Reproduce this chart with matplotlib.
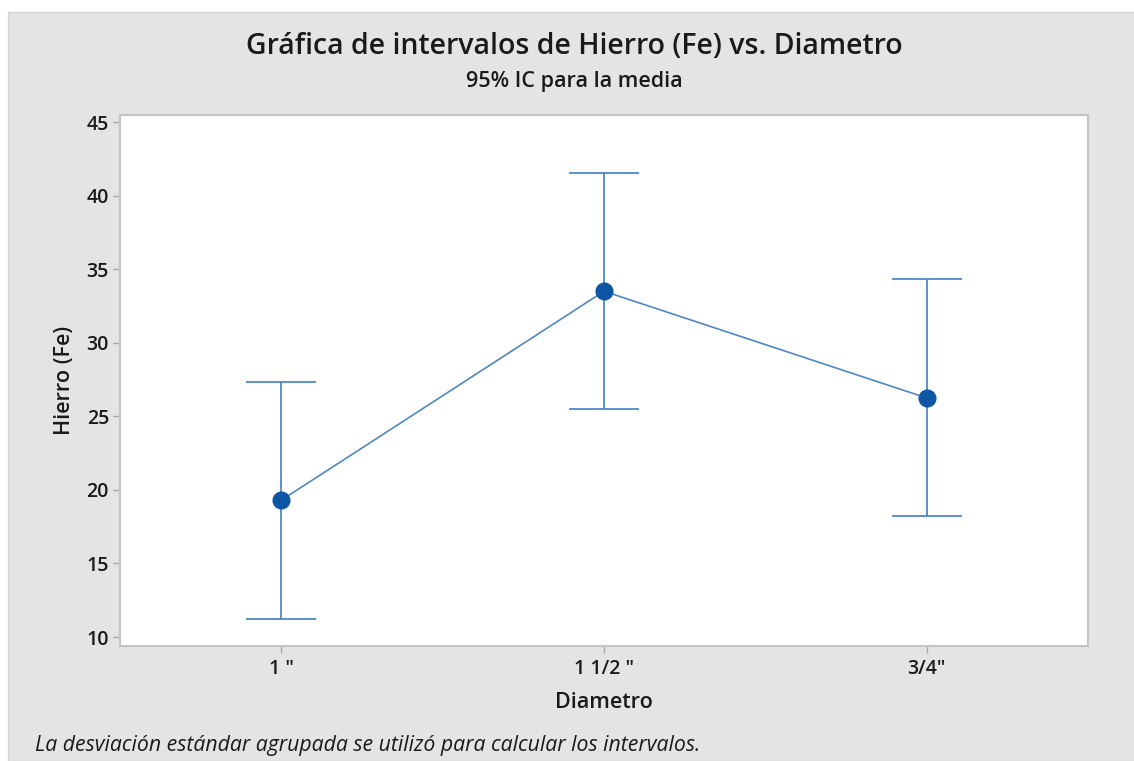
import numpy as np
import matplotlib.pyplot as plt
from matplotlib.patches import Rectangle

# -----------------------------------------------------------
# Data
# -----------------------------------------------------------
diametros = ['1 "', '1 1/2 "', '3/4"']
medias = [19.3, 33.5, 26.25]
ic_inferior = [11.25, 25.5, 18.2]
ic_superior = [27.35, 41.55, 34.3]
y_ticks = [10, 15, 20, 25, 30, 35, 40, 45]

plt.rcParams['font.family'] = ['Open Sans', 'DejaVu Sans']

x = np.arange(len(diametros))
medias = np.array(medias)
err = [medias - np.array(ic_inferior), np.array(ic_superior) - medias]

fig = plt.figure(figsize=(11.34, 7.61), dpi=100)
fig.patch.set_facecolor('white')
# gray panel behind everything
fig.patches.append(Rectangle((8 / 1134, 0), 1, 1 - 12 / 761, transform=fig.transFigure,
                             facecolor='#e4e4e4', edgecolor='#d4d4d4', linewidth=1, zorder=-5))

ax = fig.add_axes([120 / 1134, 1 - 646 / 761, 968 / 1134, 531 / 761])
ax.set_facecolor('white')

ax.errorbar(x, medias, yerr=err, fmt='none', ecolor='#4f88c6', elinewidth=1.3,
            capsize=25, capthick=1.3, zorder=2)
ax.plot(x, medias, color='#4f88c6', linewidth=1.2, zorder=3)
ax.plot(x, medias, 'o', color='#0d55a5', markersize=12, zorder=4)

ax.set_xlim(-0.5, 2.5)
ax.set_ylim(9.39, 45.48)
ax.set_xticks(x)
ax.set_xticklabels(diametros)
ax.set_yticks(y_ticks)

for s in ax.spines.values():
    s.set_color('#c4c4c4')
    s.set_linewidth(1.5)
ax.tick_params(axis='both', colors='#a8a8a8', length=5, width=1, labelsize=14,
               labelcolor='#1a1a1a')
ax.tick_params(axis='x', pad=4)
ax.tick_params(axis='y', pad=3)
for lab in ax.get_xticklabels() + ax.get_yticklabels():
    lab.set_fontweight('semibold')

ax.set_ylabel('Hierro (Fe)', fontsize=15.5, fontweight='semibold', color='#1a1a1a', labelpad=8)
ax.set_xlabel('Diametro', fontsize=15.5, fontweight='semibold', color='#1a1a1a', labelpad=10)

fig.text(574 / 1134, 1 - 47 / 761, 'Gráfica de intervalos de Hierro (Fe) vs. Diametro',
         ha='center', va='center', fontsize=20.5, fontweight='semibold', color='#1a1a1a')
fig.text(574 / 1134, 1 - 81 / 761, '95% IC para la media',
         ha='center', va='center', fontsize=15.5, fontweight='semibold', color='#1a1a1a')
fig.text(35 / 1134, 1 - 745 / 761,
         'La desviación estándar agrupada se utilizó para calcular los intervalos.',
         ha='left', va='center', fontsize=15.3, style='italic', color='#1a1a1a')

plt.savefig('out.png', dpi=100)
